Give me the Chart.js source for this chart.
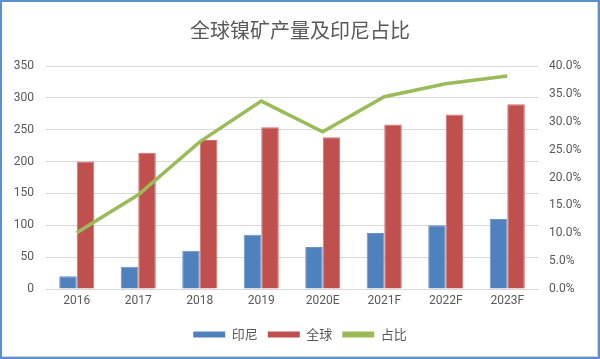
<!DOCTYPE html>
<html>
<head>
<meta charset="utf-8">
<script src="https://cdn.jsdelivr.net/npm/chart.js"></script>
<style>
  html, body { margin: 0; padding: 0; background: #fff; }
  #wrap { position: relative; width: 600px; height: 359px; }
  #frame { position: absolute; left: 0; top: 0; width: 596px; height: 355px;
           border: 2px solid #5b8fd0; pointer-events: none; }
  #inner { position: absolute; left: 0; top: 0; width: 595px; height: 354px;
           border-right: 1px solid #d4d4d4; border-bottom: 1px solid #d4d4d4; }
</style>
</head>
<body>
<div id="wrap">
  <canvas id="c" width="600" height="359"></canvas>
  <div id="frame"><div id="inner"></div></div>
</div>
<script>
// --- datos ---
const years = ['2016', '2017', '2018', '2019', '2020E', '2021F', '2022F', '2023F'];
const indonesia = [20, 35, 60, 85, 66, 88, 100, 110];
const world = [200, 214, 234, 254, 238, 258, 274, 290];
const share = [10.1, 16.9, 26.4, 33.7, 28.2, 34.5, 36.8, 38.2];
const leftTicks = [0, 50, 100, 150, 200, 250, 300, 350];

const grey = '#595959';
const font = 'Roboto, "Noto Sans", sans-serif';

new Chart(document.getElementById('c'), {
  data: {
    labels: years,
    datasets: [
      {
        type: 'line', label: '占比', data: share, yAxisID: 'y2',
        borderColor: '#9bbb59', backgroundColor: '#9bbb59',
        borderWidth: 3.5, pointRadius: 0, tension: 0, order: 0
      },
      {
        type: 'bar', label: '印尼', data: indonesia, yAxisID: 'y',
        backgroundColor: '#4f81bd', borderColor: '#6a93c9', borderWidth: 1,
        categoryPercentage: 0.57, barPercentage: 1.0, order: 1
      },
      {
        type: 'bar', label: '全球', data: world, yAxisID: 'y',
        backgroundColor: '#c0504d', borderColor: '#d0706d', borderWidth: 1,
        categoryPercentage: 0.57, barPercentage: 1.0, order: 1
      }
    ]
  },
  options: {
    responsive: false,
    animation: false,
    layout: { padding: { left: 0, right: 0, top: 0, bottom: 8 } },
    plugins: {
      title: {
        display: true, text: '全球镍矿产量及印尼占比', color: grey,
        font: { family: '"Noto Sans CJK SC"', size: 20, weight: 'normal' },
        padding: { top: 18, bottom: 24 }
      },
      legend: {
        position: 'bottom',
        labels: {
          color: grey, boxWidth: 32, boxHeight: 6, padding: 10,
          font: { family: '"Noto Sans CJK SC"', size: 13 },
          sort: (a, b) => ['印尼', '全球', '占比'].indexOf(a.text) - ['印尼', '全球', '占比'].indexOf(b.text),
          generateLabels: chart => chart.data.datasets.map((ds, i) => ({
            text: ds.label, fillStyle: ds.backgroundColor, strokeStyle: ds.backgroundColor,
            lineWidth: 0, datasetIndex: i, fontColor: grey
          }))
        }
      },
      tooltip: { enabled: false }
    },
    scales: {
      x: {
        afterFit: s => { s.height = 29; },
        grid: { display: false, drawTicks: false },
        border: { display: true, color: '#d9d9d9' },
        ticks: { color: grey, font: { family: font, size: 12 }, padding: 5 }
      },
      y: {
        position: 'left', min: 0, max: 350,
        afterFit: s => { s.width = 46; },
        afterBuildTicks: s => { s.ticks = leftTicks.map(v => ({ value: v })); },
        grid: { color: '#d9d9d9', lineWidth: 1, drawTicks: false },
        border: { display: false },
        ticks: { color: grey, font: { family: font, size: 12 }, padding: 12 }
      },
      y2: {
        position: 'right', min: 0, max: 40,
        afterFit: s => { s.width = 62; },
        grid: { display: false, drawTicks: false },
        border: { display: false },
        ticks: {
          stepSize: 5, color: grey, padding: 11,
          font: { family: font, size: 12 },
          callback: v => v.toFixed(1) + '%'
        }
      }
    }
  }
});
</script>
</body>
</html>
